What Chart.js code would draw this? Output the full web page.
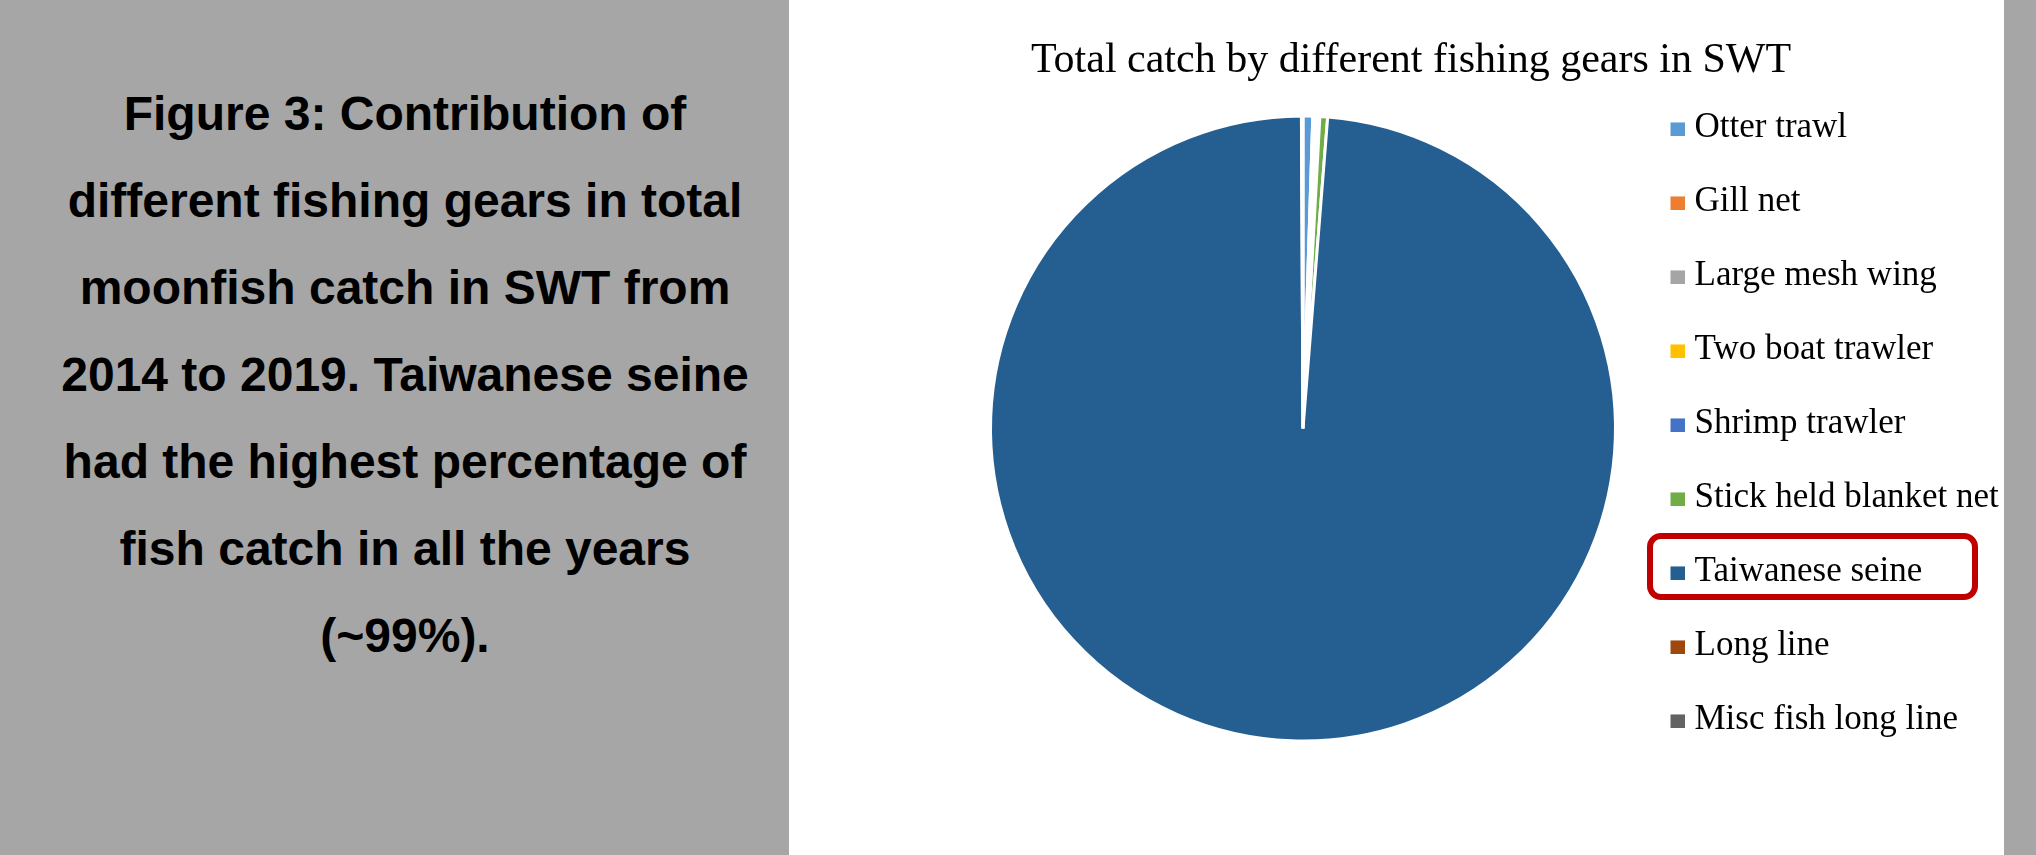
<!DOCTYPE html>
<html>
<head>
<meta charset="utf-8">
<script src="https://cdn.jsdelivr.net/npm/chart.js@4/dist/chart.umd.min.js"></script>
<style>
  html, body { margin: 0; padding: 0; }
  body { width: 2036px; height: 855px; position: relative; overflow: hidden; background: #ffffff; }
  #leftPanel { position: absolute; left: 0; top: 0; width: 789px; height: 855px; background: #a6a6a6; }
  #rightStrip { position: absolute; left: 2004px; top: 0; width: 32px; height: 855px; background: #a6a6a6; }
  #caption { position: absolute; left: 20px; top: 70px; width: 770px; text-align: center;
             font-family: "Liberation Sans", Arial, sans-serif; font-weight: bold; font-size: 48px;
             line-height: 87px; color: #000; }
  #chart { position: absolute; left: 0; top: 0; }
  #highlight { position: absolute; left: 1647px; top: 533px; width: 331px; height: 67px; box-sizing: border-box;
               border: 6px solid #c00000; border-radius: 14px; }
</style>
</head>
<body>
<div id="leftPanel"></div>
<div id="rightStrip"></div>
<div id="caption">Figure 3: Contribution of<br>different fishing gears in total<br>moonfish catch in SWT from<br>2014 to 2019. Taiwanese seine<br>had the highest percentage of<br>fish catch in all the years<br>(~99%).</div>
<canvas id="chart" width="2036" height="855"></canvas>
<div id="highlight"></div>
<script>
// ---- data ----
const chartTitle = "Total catch by different fishing gears in SWT";
const categories = ["Otter trawl", "Gill net", "Large mesh wing", "Two boat trawler", "Shrimp trawler",
                    "Stick held blanket net", "Taiwanese seine", "Long line", "Misc fish long line"];
const catchPercent = [0.50, 0.09, 0.09, 0.09, 0.09, 0.40, 98.66, 0.04, 0.04];
const sliceColors = ["#5b9bd5", "#ed7d31", "#a5a5a5", "#ffc000", "#4472c4", "#70ad47", "#255e91", "#9e480e", "#636363"];

// ---- layout constants ----
const serif = '"Liberation Serif", "Times New Roman", serif';
const W = 2036;
const legendFontSize = 35;
const legendPad = 39;
const swatchStyleWidth = 2;
const legendTextX = 1694.5;   // where legend label text starts
const pieCenterX = 1303;
const titleCenterX = 1411;

// measure the widest legend label to place the legend
const mctx = document.createElement('canvas').getContext('2d');
mctx.font = legendFontSize + 'px ' + serif;
const maxLabelW = Math.max(...categories.map(t => mctx.measureText(t).width));
const padRight = W - legendTextX - maxLabelW - 10;
const legendLeft = legendTextX - legendPad - swatchStyleWidth - legendFontSize / 2;
const padLeft = 2 * pieCenterX - legendLeft;

function makeSwatch(color) {
  const c = document.createElement('canvas');
  c.width = 17; c.height = 17;
  const g = c.getContext('2d');
  g.fillStyle = color;
  g.fillRect(3, 3, 14, 14);
  return c;
}
const swatches = sliceColors.map(makeSwatch);

const titlePlacement = {
  id: 'titlePlacement',
  afterLayout(chart) {
    const t = chart.titleBlock;
    if (t) { t.left = 2 * titleCenterX - t.right; t.width = t.right - t.left; }
  }
};

new Chart(document.getElementById('chart'), {
  type: 'pie',
  data: {
    labels: categories,
    datasets: [{
      data: catchPercent,
      backgroundColor: sliceColors,
      borderColor: '#ffffff',
      borderWidth: 3,
      radius: 312.5
    }]
  },
  plugins: [titlePlacement],
  options: {
    responsive: false,
    animation: false,
    events: [],
    devicePixelRatio: 1,
    layout: { padding: { left: padLeft, right: padRight, top: 56, bottom: 63.2 } },
    plugins: {
      title: {
        display: true,
        text: chartTitle,
        color: '#000000',
        align: 'center',
        font: { family: serif, size: 42, weight: 'normal', lineHeight: 3 / 42 },
        padding: { top: 3, bottom: 3.2 }
      },
      legend: {
        display: true,
        position: 'right',
        align: 'center',
        labels: {
          color: '#000000',
          font: { family: serif, size: legendFontSize },
          padding: legendPad,
          usePointStyle: true,
          pointStyleWidth: swatchStyleWidth,
          textAlign: 'left',
          generateLabels(chart) {
            return chart.data.labels.map((label, i) => ({
              text: label,
              fillStyle: sliceColors[i],
              strokeStyle: sliceColors[i],
              fontColor: '#000000',
              lineWidth: 0,
              pointStyle: swatches[i],
              hidden: !chart.getDataVisibility(i),
              index: i
            }));
          }
        }
      },
      tooltip: { enabled: false }
    }
  }
});
</script>
</body>
</html>
